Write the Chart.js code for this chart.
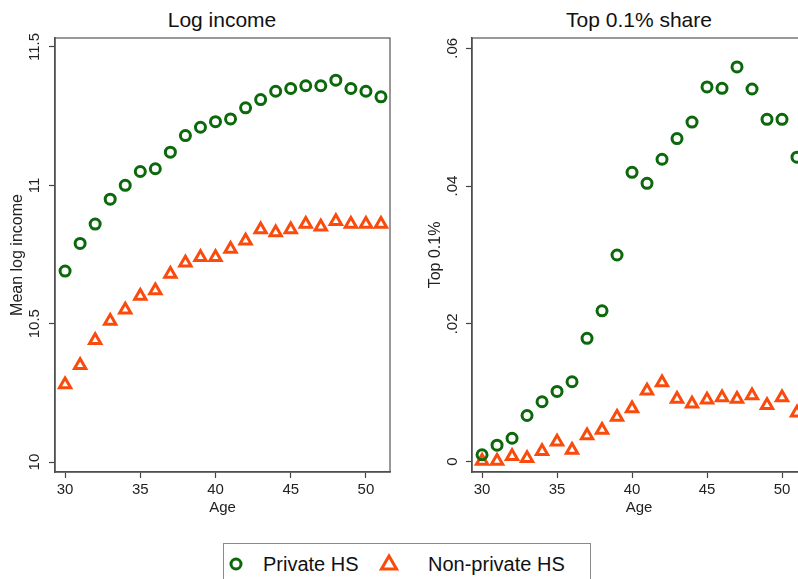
<!DOCTYPE html>
<html>
<head>
<meta charset="utf-8">
<script src="https://cdn.jsdelivr.net/npm/chart.js@4.4.1/dist/chart.umd.min.js"></script>
<style>
  html, body { margin: 0; padding: 0; background: #fff; }
  #page { position: relative; width: 798px; height: 579px; overflow: hidden; font-family: "Liberation Sans", Arial, sans-serif; color: #111; }
  .panel { position: absolute; top: 0; width: 400px; height: 530px; }
  .title { position: absolute; top: 8px; font-size: 21px; line-height: 24px; transform: translateX(-50%); white-space: nowrap; }
  #legend { position: absolute; left: 223px; top: 543px; width: 368px; height: 50px; border: 1px solid #8a8a8a; box-sizing: border-box; font-size: 20px; }
  #legend span, #legend svg { position: absolute; }
  #legend span { top: 8px; line-height: 24px; white-space: nowrap; }
</style>
</head>
<body>
<div id="page">
  <div class="title" style="left:222px">Log income</div>
  <div class="title" style="left:639px">Top 0.1% share</div>
  <div class="panel" style="left:0px"><canvas id="graficoLog"></canvas></div>
  <div class="panel" style="left:418px"><canvas id="graficoTop"></canvas></div>
  <div id="legend"></div>
</div>
<script>
const ages = [30, 31, 32, 33, 34, 35, 36, 37, 38, 39, 40, 41, 42, 43, 44, 45, 46, 47, 48, 49, 50, 51];
const xTicks = [30, 35, 40, 45, 50];

const seriesNames = ["Private HS", "Non-private HS"];

// log income panel
const logPrivate = [10.69, 10.79, 10.86, 10.95, 11.00, 11.05, 11.06, 11.12, 11.18, 11.21, 11.23, 11.24, 11.28, 11.31, 11.34, 11.35, 11.36, 11.36, 11.38, 11.35, 11.34, 11.32];
const logNonPrivate = [10.28, 10.35, 10.44, 10.51, 10.55, 10.60, 10.62, 10.68, 10.72, 10.74, 10.74, 10.77, 10.80, 10.84, 10.83, 10.84, 10.86, 10.85, 10.87, 10.86, 10.86, 10.86];
const logTicks = [10, 10.5, 11, 11.5];
const logTickLabels = ["10", "10.5", "11", "11.5"];

// top 0.1% panel
const topPrivate = [0.0010, 0.0024, 0.0034, 0.0067, 0.0087, 0.0102, 0.0116, 0.0179, 0.0219, 0.0300, 0.0420, 0.0404, 0.0439, 0.0469, 0.0493, 0.0544, 0.0542, 0.0573, 0.0541, 0.0497, 0.0497, 0.0442];
const topNonPrivate = [0.0001, 0.0001, 0.0008, 0.0005, 0.0015, 0.0029, 0.0017, 0.0038, 0.0046, 0.0065, 0.0077, 0.0103, 0.0115, 0.0091, 0.0084, 0.0090, 0.0093, 0.0091, 0.0096, 0.0082, 0.0093, 0.0071];
const topTicks = [0, 0.02, 0.04, 0.06];
const topTickLabels = ["0", ".02", ".04", ".06"];

const green = "#0b680b";
const orange = "#fa4a0c";
const fonte = '"Liberation Sans", Arial, sans-serif';

Chart.defaults.font.family = fonte;
Chart.defaults.color = "#222";

// rotated y tick labels, placed on the scale's own tick positions
const yTickLabels = {
    id: "yTickLabels",
    afterDraw(chart, args, opts) {
        const scale = chart.scales.y;
        const ctx = chart.ctx;
        ctx.save();
        ctx.font = "15px " + fonte;
        ctx.fillStyle = "#222";
        ctx.textAlign = "center";
        ctx.textBaseline = "middle";
        scale.ticks.forEach((tick, i) => {
            const y = scale.getPixelForValue(tick.value);
            ctx.save();
            ctx.translate(opts.x, y);
            ctx.rotate(-Math.PI / 2);
            ctx.fillText(opts.labels[i], 0, 0);
            ctx.restore();
        });
        ctx.restore();
    }
};

const plotBox = {
    id: "plotBox",
    beforeDatasetsDraw(chart) {
        const { ctx, chartArea: a } = chart;
        ctx.save();
        ctx.strokeStyle = "#555";
        ctx.lineWidth = 1.2;
        ctx.strokeRect(a.left, a.top, a.right - a.left, a.bottom - a.top);
        ctx.restore();
    }
};

function pontos(valores) {
    return ages.map((age, i) => ({ x: age, y: valores[i] }));
}

function criaGrafico(id, privado, naoPrivado, yMin, yMax, yTicks, yLabels, yTitle, yWidth, padRight) {
    return new Chart(document.getElementById(id), {
        type: "scatter",
        data: {
            datasets: [{
                label: seriesNames[0],
                data: pontos(privado),
                pointStyle: "circle",
                pointRadius: 5,
                pointBorderWidth: 3,
                borderColor: green,
                backgroundColor: "rgba(0,0,0,0)"
            }, {
                label: seriesNames[1],
                data: pontos(naoPrivado),
                pointStyle: "triangle",
                pointRadius: 6.5,
                pointBorderWidth: 3,
                borderColor: orange,
                backgroundColor: "rgba(0,0,0,0)"
            }]
        },
        options: {
            responsive: true,
            maintainAspectRatio: false,
            animation: false,
            layout: { padding: { top: 38, right: padRight, bottom: 0, left: 0 } },
            plugins: {
                legend: { display: false },
                tooltip: { enabled: false },
                yTickLabels: { x: 35, labels: yLabels }
            },
            scales: {
                x: {
                    type: "linear",
                    min: 29.33,
                    max: 51.6,
                    afterBuildTicks: scale => { scale.ticks = xTicks.map(v => ({ value: v })); },
                    afterFit: scale => { scale.height = 58; },
                    ticks: { font: { size: 15 }, padding: 3, maxRotation: 0 },
                    grid: { display: true, drawOnChartArea: false, drawTicks: true, tickLength: 6, tickColor: "#444", tickWidth: 1.2 },
                    border: { display: true, color: "#444", width: 1.5 },
                    title: { display: true, text: "Age", font: { size: 15 }, padding: { top: 0, bottom: 13 } }
                },
                y: {
                    type: "linear",
                    min: yMin,
                    max: yMax,
                    afterBuildTicks: scale => { scale.ticks = yTicks.map(v => ({ value: v })); },
                    afterFit: scale => { scale.width = yWidth; },
                    ticks: { display: false },
                    grid: { display: true, drawOnChartArea: false, drawTicks: true, tickLength: 6, tickColor: "#444", tickWidth: 1.2 },
                    border: { display: true, color: "#444", width: 1.5 },
                    title: { display: true, text: yTitle, font: { size: 16 }, padding: { top: 8, bottom: 0 } }
                }
            }
        },
        plugins: [plotBox, yTickLabels]
    });
}

const graficoLog = criaGrafico("graficoLog", logPrivate, logNonPrivate, 9.964, 11.5325, logTicks, logTickLabels, "Mean log income", 55, 10);
const graficoTop = criaGrafico("graficoTop", topPrivate, topNonPrivate, -0.0015, 0.0615, topTicks, topTickLabels, "Top 0.1%", 54, 12);

// legend under both panels
function montaLegenda() {
    const legenda = document.getElementById("legend");
    legenda.innerHTML =
        '<svg style="left:4px;top:12px" width="16" height="16"><circle cx="8" cy="8" r="5" fill="none" stroke="' + green + '" stroke-width="3"/></svg>' +
        '<span style="left:39px">' + seriesNames[0] + '</span>' +
        '<svg style="left:155px;top:9px" width="20" height="20"><polygon points="10,3 17.5,16 2.5,16" fill="none" stroke="' + orange + '" stroke-width="3" stroke-linejoin="miter"/></svg>' +
        '<span style="left:204px">' + seriesNames[1] + '</span>';
}
montaLegenda();
</script>
</body>
</html>
